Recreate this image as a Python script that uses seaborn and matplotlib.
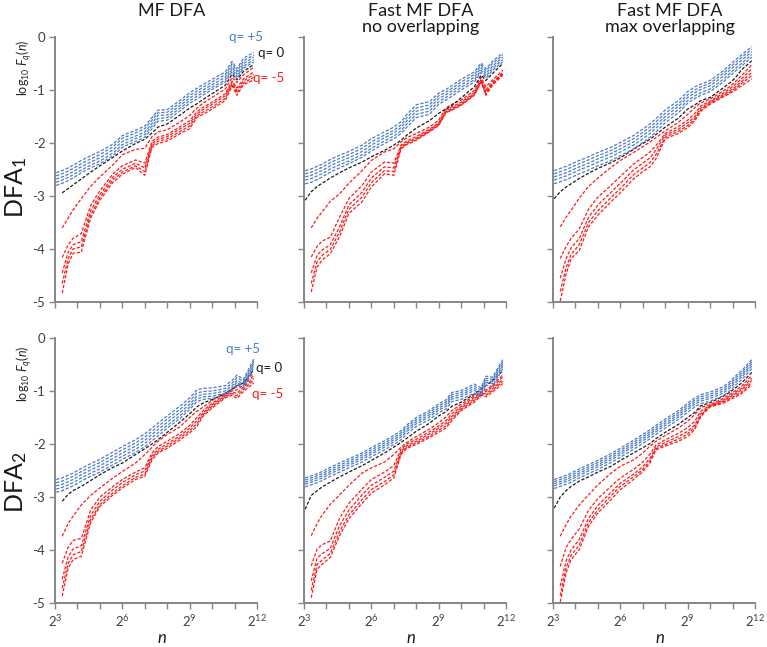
import numpy as np
import pandas as pd
import matplotlib
matplotlib.use("Agg")
import matplotlib.pyplot as plt
from matplotlib.ticker import NullLocator
import seaborn as sns

nan = np.nan

# window sizes n (same for every panel)
window_n = [8.3, 10, 12, 14, 18, 24, 32, 48, 64, 96, 128, 160, 192, 256,
            384, 512, 640, 768, 1024, 1536, 1900, 2200, 2700, 3700]

# log10 F_q(n), q = +5 ... -5
mf_dfa1 = {
    5: [-2.56, -2.52, -2.47, -2.42, -2.33, -2.24, -2.16, -2.02, -1.86, -1.76, -1.68, -1.52, -1.38, -1.37, -1.19, -1.05, -0.97, -0.90, -0.80, -0.66, -0.46, -0.60, -0.40, -0.29],
    4: [-2.62, -2.58, -2.53, -2.48, -2.39, -2.30, -2.22, -2.07, -1.91, -1.81, -1.73, -1.57, -1.43, -1.42, -1.24, -1.10, -1.02, -0.95, -0.85, -0.71, -0.51, -0.65, -0.45, -0.34],
    3: [-2.68, -2.64, -2.59, -2.54, -2.45, -2.36, -2.28, -2.13, -1.97, -1.87, -1.79, -1.63, -1.48, -1.47, -1.29, -1.15, -1.07, -1.00, -0.90, -0.76, -0.56, -0.70, -0.50, -0.38],
    2: [-2.74, -2.70, -2.65, -2.60, -2.51, -2.42, -2.34, -2.19, -2.03, -1.92, -1.84, -1.68, -1.54, -1.52, -1.34, -1.20, -1.12, -1.05, -0.95, -0.81, -0.61, -0.75, -0.55, -0.43],
    1: [-2.80, -2.76, -2.71, -2.66, -2.56, -2.47, -2.39, -2.24, -2.08, -1.97, -1.89, -1.73, -1.59, -1.57, -1.39, -1.25, -1.17, -1.10, -0.99, -0.85, -0.65, -0.79, -0.59, -0.47],
    0: [nan, -2.94, -2.86, -2.79, -2.68, -2.55, -2.43, -2.27, -2.15, -2.01, -1.93, -1.81, -1.70, -1.64, -1.47, -1.34, -1.26, -1.18, -1.07, -0.91, -0.70, -0.81, -0.65, -0.52],
    -1: [nan, -3.60, -3.42, -3.26, -3.05, -2.82, -2.64, -2.41, -2.22, -2.12, -2.10, -1.88, -1.79, -1.75, -1.60, -1.48, -1.34, -1.25, -1.14, -0.98, -0.76, -0.86, -0.71, -0.57],
    -2: [nan, -4.16, -3.92, -3.80, -3.71, -3.18, -2.90, -2.58, -2.43, -2.32, -2.38, -1.97, -1.89, -1.84, -1.69, -1.58, -1.41, -1.33, -1.23, -1.07, -0.83, -0.96, -0.79, -0.66],
    -3: [nan, -4.45, -4.06, -3.92, -3.86, -3.28, -2.97, -2.64, -2.50, -2.38, -2.47, -2.01, -1.93, -1.88, -1.73, -1.63, -1.45, -1.37, -1.27, -1.11, -0.86, -1.01, -0.83, -0.71],
    -4: [nan, -4.65, -4.18, -4.00, -3.96, -3.36, -3.03, -2.69, -2.55, -2.43, -2.54, -2.05, -1.97, -1.92, -1.78, -1.68, -1.49, -1.42, -1.32, -1.16, -0.89, -1.06, -0.87, -0.76],
    -5: [nan, -4.83, -4.28, -4.08, -4.06, -3.42, -3.08, -2.74, -2.59, -2.46, -2.61, -2.08, -2.01, -1.96, -1.82, -1.73, -1.52, -1.46, -1.36, -1.20, -0.92, -1.10, -0.90, -0.81],
}

fast_no_dfa1 = {
    5: [-2.52, -2.49, -2.44, -2.40, -2.31, -2.23, -2.16, -2.04, -1.92, -1.79, -1.70, -1.60, -1.46, -1.28, -1.22, -1.06, -0.99, -0.92, -0.80, -0.66, -0.49, -0.60, -0.46, -0.30],
    4: [-2.58, -2.55, -2.50, -2.46, -2.37, -2.29, -2.22, -2.10, -1.98, -1.85, -1.76, -1.66, -1.52, -1.34, -1.28, -1.11, -1.04, -0.97, -0.85, -0.71, -0.53, -0.64, -0.50, -0.34],
    3: [-2.64, -2.61, -2.56, -2.52, -2.43, -2.35, -2.28, -2.16, -2.04, -1.90, -1.81, -1.71, -1.58, -1.40, -1.34, -1.16, -1.09, -1.02, -0.90, -0.76, -0.58, -0.69, -0.55, -0.38],
    2: [-2.70, -2.67, -2.62, -2.58, -2.49, -2.41, -2.34, -2.22, -2.10, -1.96, -1.87, -1.77, -1.64, -1.46, -1.40, -1.22, -1.14, -1.07, -0.95, -0.81, -0.63, -0.74, -0.59, -0.43],
    1: [-2.77, -2.74, -2.69, -2.64, -2.55, -2.47, -2.39, -2.27, -2.15, -2.01, -1.92, -1.82, -1.70, -1.52, -1.46, -1.27, -1.19, -1.12, -1.00, -0.85, -0.67, -0.78, -0.63, -0.47],
    0: [-3.08, -2.92, -2.82, -2.76, -2.66, -2.56, -2.47, -2.36, -2.26, -2.14, -2.04, -1.95, -1.85, -1.72, -1.58, -1.44, -1.36, -1.29, -1.15, -0.94, -0.72, -0.82, -0.69, -0.50],
    -1: [nan, -3.60, -3.42, -3.30, -3.10, -2.96, -2.76, -2.52, -2.33, -2.17, -2.11, -1.98, -1.90, -1.82, -1.70, -1.57, -1.34, -1.27, -1.19, -1.01, -0.76, -0.94, -0.81, -0.63],
    -2: [nan, -4.15, -3.95, -3.85, -3.78, -3.40, -3.05, -2.80, -2.55, -2.36, -2.38, -2.04, -1.96, -1.88, -1.74, -1.62, -1.38, -1.32, -1.23, -1.05, -0.80, -1.00, -0.85, -0.67],
    -3: [nan, -4.45, -4.12, -4.02, -3.92, -3.58, -3.17, -2.93, -2.66, -2.45, -2.47, -2.07, -1.99, -1.91, -1.76, -1.64, -1.40, -1.35, -1.26, -1.07, -0.82, -1.04, -0.87, -0.69],
    -4: [nan, -4.65, -4.24, -4.12, -4.01, -3.68, -3.25, -3.02, -2.75, -2.52, -2.54, -2.09, -2.01, -1.93, -1.78, -1.66, -1.42, -1.37, -1.28, -1.09, -0.84, -1.07, -0.89, -0.71],
    -5: [nan, -4.81, -4.34, -4.21, -4.09, -3.77, -3.33, -3.11, -2.83, -2.58, -2.61, -2.11, -2.03, -1.95, -1.79, -1.67, -1.43, -1.38, -1.29, -1.10, -0.85, -1.10, -0.91, -0.72],
}

fast_max_dfa1 = {
    5: [-2.52, -2.48, -2.44, -2.40, -2.33, -2.26, -2.18, -2.08, -1.99, -1.86, -1.74, -1.64, -1.54, -1.38, -1.20, -1.03, -0.94, -0.89, -0.82, -0.64, -0.52, -0.44, -0.34, -0.18],
    4: [-2.58, -2.54, -2.50, -2.46, -2.39, -2.32, -2.24, -2.14, -2.05, -1.92, -1.80, -1.70, -1.60, -1.44, -1.26, -1.09, -1.00, -0.94, -0.87, -0.69, -0.57, -0.49, -0.39, -0.23],
    3: [-2.64, -2.60, -2.56, -2.52, -2.45, -2.38, -2.30, -2.20, -2.11, -1.98, -1.86, -1.76, -1.66, -1.50, -1.31, -1.14, -1.05, -0.99, -0.92, -0.74, -0.62, -0.54, -0.44, -0.28],
    2: [-2.70, -2.66, -2.62, -2.58, -2.51, -2.44, -2.36, -2.26, -2.17, -2.04, -1.92, -1.82, -1.72, -1.56, -1.37, -1.20, -1.11, -1.05, -0.98, -0.80, -0.68, -0.60, -0.50, -0.33],
    1: [-2.77, -2.73, -2.69, -2.65, -2.58, -2.51, -2.43, -2.33, -2.24, -2.11, -1.99, -1.89, -1.79, -1.62, -1.43, -1.25, -1.16, -1.10, -1.03, -0.85, -0.73, -0.65, -0.55, -0.38],
    0: [-3.05, -2.92, -2.83, -2.77, -2.67, -2.57, -2.48, -2.37, -2.28, -2.12, -2.01, -1.93, -1.84, -1.70, -1.53, -1.36, -1.28, -1.20, -1.14, -0.96, -0.86, -0.78, -0.62, -0.45],
    -1: [nan, -3.58, -3.40, -3.27, -3.04, -2.82, -2.66, -2.46, -2.33, -2.18, -2.07, -1.98, -1.90, -1.77, -1.61, -1.46, -1.33, -1.24, -1.17, -1.02, -0.93, -0.85, -0.73, -0.53],
    -2: [nan, -4.18, -3.95, -3.80, -3.62, -3.25, -3.02, -2.80, -2.63, -2.40, -2.27, -2.17, -2.05, -1.82, -1.69, -1.57, -1.44, -1.30, -1.21, -1.06, -0.97, -0.90, -0.79, -0.60],
    -3: [nan, -4.55, -4.18, -3.98, -3.80, -3.40, -3.17, -2.93, -2.76, -2.51, -2.38, -2.28, -2.13, -1.85, -1.74, -1.62, -1.50, -1.34, -1.23, -1.09, -1.01, -0.95, -0.84, -0.67],
    -4: [nan, -4.80, -4.35, -4.10, -3.92, -3.50, -3.28, -3.03, -2.86, -2.60, -2.47, -2.37, -2.22, -1.89, -1.78, -1.67, -1.54, -1.37, -1.25, -1.11, -1.04, -0.98, -0.88, -0.73],
    -5: [nan, -4.98, -4.47, -4.18, -4.03, -3.58, -3.36, -3.11, -2.94, -2.68, -2.54, -2.45, -2.30, -1.92, -1.82, -1.71, -1.58, -1.40, -1.27, -1.13, -1.06, -1.01, -0.92, -0.79],
}

mf_dfa2 = {
    5: [-2.67, -2.64, -2.59, -2.55, -2.46, -2.37, -2.29, -2.15, -2.05, -1.92, -1.81, -1.70, -1.61, -1.47, -1.28, -1.13, -0.98, -0.95, -0.94, -0.90, -0.80, -0.70, -0.78, -0.40],
    4: [-2.73, -2.70, -2.65, -2.61, -2.52, -2.43, -2.35, -2.21, -2.11, -1.98, -1.87, -1.76, -1.67, -1.53, -1.34, -1.19, -1.04, -1.01, -1.00, -0.95, -0.85, -0.75, -0.82, -0.44],
    3: [-2.79, -2.76, -2.71, -2.67, -2.58, -2.49, -2.41, -2.27, -2.17, -2.04, -1.93, -1.82, -1.73, -1.59, -1.40, -1.25, -1.10, -1.06, -1.05, -1.00, -0.90, -0.80, -0.87, -0.48],
    2: [-2.85, -2.82, -2.77, -2.73, -2.64, -2.55, -2.47, -2.33, -2.23, -2.10, -1.99, -1.88, -1.79, -1.65, -1.46, -1.30, -1.15, -1.11, -1.10, -1.04, -0.94, -0.84, -0.91, -0.52],
    1: [-2.91, -2.88, -2.83, -2.79, -2.70, -2.61, -2.53, -2.39, -2.29, -2.16, -2.05, -1.94, -1.85, -1.70, -1.51, -1.35, -1.20, -1.16, -1.14, -1.08, -0.98, -0.88, -0.95, -0.56],
    0: [nan, -3.08, -2.95, -2.88, -2.80, -2.69, -2.58, -2.44, -2.36, -2.20, -2.09, -2.00, -1.92, -1.78, -1.58, -1.43, -1.30, -1.23, -1.16, -1.05, -0.97, -0.90, -0.85, -0.60],
    -1: [nan, -3.74, -3.50, -3.36, -3.15, -2.97, -2.83, -2.64, -2.52, -2.36, -2.20, -2.06, -1.95, -1.82, -1.67, -1.50, -1.38, -1.31, -1.18, -1.04, -0.97, -0.92, -0.85, -0.66],
    -2: [nan, -4.25, -3.95, -3.82, -3.78, -3.25, -3.00, -2.80, -2.67, -2.53, -2.45, -2.17, -2.05, -1.95, -1.79, -1.65, -1.50, -1.38, -1.23, -1.07, -1.00, -0.98, -0.89, -0.71],
    -3: [nan, -4.55, -4.13, -3.98, -3.92, -3.35, -3.08, -2.86, -2.73, -2.58, -2.51, -2.22, -2.10, -2.00, -1.84, -1.70, -1.56, -1.42, -1.26, -1.09, -1.03, -1.04, -0.93, -0.76],
    -4: [nan, -4.72, -4.25, -4.09, -4.03, -3.43, -3.14, -2.92, -2.79, -2.63, -2.57, -2.26, -2.14, -2.04, -1.88, -1.75, -1.62, -1.45, -1.29, -1.11, -1.05, -1.09, -0.97, -0.80],
    -5: [nan, -4.87, -4.34, -4.18, -4.12, -3.49, -3.18, -2.96, -2.83, -2.67, -2.61, -2.30, -2.17, -2.08, -1.92, -1.79, -1.67, -1.48, -1.32, -1.13, -1.08, -1.14, -1.01, -0.85],
}

fast_no_dfa2 = {
    5: [-2.64, -2.60, -2.56, -2.52, -2.44, -2.36, -2.28, -2.17, -2.07, -1.94, -1.84, -1.75, -1.64, -1.50, -1.37, -1.24, -1.17, -1.03, -0.99, -0.87, -0.94, -0.72, -0.74, -0.41],
    4: [-2.68, -2.64, -2.60, -2.56, -2.48, -2.40, -2.32, -2.21, -2.11, -1.98, -1.88, -1.79, -1.68, -1.54, -1.41, -1.28, -1.21, -1.07, -1.03, -0.91, -0.98, -0.76, -0.78, -0.45],
    3: [-2.72, -2.68, -2.64, -2.60, -2.52, -2.44, -2.36, -2.25, -2.15, -2.02, -1.92, -1.83, -1.72, -1.58, -1.45, -1.32, -1.25, -1.11, -1.07, -0.95, -1.02, -0.80, -0.82, -0.49],
    2: [-2.76, -2.72, -2.68, -2.64, -2.56, -2.48, -2.40, -2.29, -2.19, -2.06, -1.96, -1.87, -1.76, -1.62, -1.49, -1.36, -1.29, -1.15, -1.11, -0.99, -1.06, -0.84, -0.86, -0.53],
    1: [-2.81, -2.77, -2.73, -2.69, -2.61, -2.53, -2.45, -2.34, -2.24, -2.11, -2.01, -1.92, -1.81, -1.67, -1.54, -1.41, -1.34, -1.20, -1.16, -1.04, -1.11, -0.89, -0.91, -0.58],
    0: [-3.23, -2.97, -2.88, -2.81, -2.72, -2.62, -2.53, -2.41, -2.31, -2.17, -2.06, -1.97, -1.89, -1.76, -1.61, -1.47, -1.39, -1.29, -1.21, -1.06, -0.96, -0.90, -0.80, -0.62],
    -1: [nan, -3.73, -3.50, -3.34, -3.14, -2.96, -2.78, -2.55, -2.45, -2.34, -2.20, -2.06, -1.97, -1.86, -1.72, -1.60, -1.49, -1.37, -1.25, -1.09, -1.02, -0.98, -0.89, -0.70],
    -2: [nan, -4.30, -3.98, -3.90, -3.83, -3.40, -3.12, -2.85, -2.67, -2.53, -2.41, -2.10, -2.00, -1.91, -1.77, -1.66, -1.56, -1.43, -1.29, -1.12, -1.03, -1.01, -0.92, -0.74],
    -3: [nan, -4.58, -4.15, -4.07, -3.97, -3.54, -3.25, -2.96, -2.78, -2.63, -2.51, -2.14, -2.03, -1.95, -1.81, -1.70, -1.61, -1.48, -1.32, -1.15, -1.05, -1.05, -0.96, -0.78],
    -4: [nan, -4.76, -4.27, -4.19, -4.07, -3.65, -3.34, -3.05, -2.86, -2.71, -2.58, -2.17, -2.06, -1.98, -1.85, -1.74, -1.66, -1.52, -1.35, -1.18, -1.07, -1.08, -0.99, -0.82],
    -5: [nan, -4.90, -4.36, -4.27, -4.14, -3.73, -3.41, -3.12, -2.93, -2.77, -2.64, -2.20, -2.08, -2.01, -1.88, -1.78, -1.70, -1.56, -1.37, -1.21, -1.08, -1.11, -1.02, -0.86],
}

fast_max_dfa2 = {
    5: [-2.67, -2.63, -2.59, -2.55, -2.47, -2.39, -2.31, -2.18, -2.08, -1.93, -1.82, -1.73, -1.65, -1.53, -1.37, -1.23, -1.13, -1.07, -1.02, -0.92, -0.82, -0.73, -0.62, -0.41],
    4: [-2.71, -2.67, -2.63, -2.59, -2.51, -2.43, -2.35, -2.22, -2.12, -1.97, -1.86, -1.77, -1.69, -1.57, -1.41, -1.27, -1.17, -1.11, -1.06, -0.96, -0.86, -0.77, -0.66, -0.45],
    3: [-2.75, -2.71, -2.67, -2.63, -2.55, -2.47, -2.39, -2.26, -2.16, -2.01, -1.90, -1.81, -1.73, -1.61, -1.45, -1.31, -1.21, -1.15, -1.10, -1.00, -0.90, -0.81, -0.70, -0.49],
    2: [-2.79, -2.75, -2.71, -2.67, -2.59, -2.51, -2.43, -2.30, -2.20, -2.05, -1.94, -1.85, -1.77, -1.65, -1.49, -1.35, -1.25, -1.19, -1.14, -1.04, -0.94, -0.85, -0.74, -0.53],
    1: [-2.84, -2.80, -2.76, -2.72, -2.64, -2.56, -2.48, -2.35, -2.25, -2.10, -1.99, -1.90, -1.82, -1.70, -1.54, -1.40, -1.30, -1.24, -1.19, -1.09, -0.99, -0.90, -0.79, -0.58],
    0: [-3.21, -3.00, -2.88, -2.80, -2.70, -2.62, -2.53, -2.42, -2.31, -2.17, -2.07, -1.99, -1.90, -1.78, -1.63, -1.50, -1.40, -1.28, -1.22, -1.10, -1.02, -0.95, -0.85, -0.65],
    -1: [nan, -3.74, -3.52, -3.36, -3.15, -2.96, -2.77, -2.55, -2.42, -2.30, -2.17, -2.04, -1.95, -1.84, -1.70, -1.57, -1.44, -1.31, -1.26, -1.14, -1.06, -1.00, -0.91, -0.71],
    -2: [nan, -4.31, -3.95, -3.80, -3.60, -3.25, -3.03, -2.80, -2.64, -2.48, -2.34, -2.19, -2.02, -1.92, -1.80, -1.69, -1.57, -1.38, -1.27, -1.17, -1.09, -1.03, -0.95, -0.76],
    -3: [nan, -4.68, -4.20, -4.00, -3.80, -3.40, -3.16, -2.91, -2.74, -2.57, -2.43, -2.27, -2.06, -1.97, -1.86, -1.76, -1.64, -1.43, -1.28, -1.19, -1.11, -1.06, -0.98, -0.80],
    -4: [nan, -4.86, -4.33, -4.10, -3.91, -3.48, -3.24, -2.98, -2.80, -2.62, -2.48, -2.32, -2.09, -2.01, -1.91, -1.81, -1.68, -1.46, -1.29, -1.21, -1.14, -1.09, -1.02, -0.84],
    -5: [nan, -4.98, -4.43, -4.18, -3.99, -3.55, -3.30, -3.05, -2.86, -2.67, -2.52, -2.36, -2.11, -2.04, -1.95, -1.86, -1.72, -1.48, -1.30, -1.23, -1.16, -1.12, -1.05, -0.88],
}

col_titles = ["MF DFA", "Fast MF DFA\nno overlapping", "Fast MF DFA\nmax overlapping"]
row_titles = ["DFA$_1$", "DFA$_2$"]
ytick_vals = [0, -1, -2, -3, -4, -5]
xtick_pows = list(range(3, 13))

blue, red, black = "#4a7bc8", "#ff1a1a", "#1a1a1a"
spine_grey = "#868686"

sns.set_theme(style="white")
plt.rcParams["font.family"] = ["Lato", "DejaVu Sans"]
plt.rcParams["mathtext.fontset"] = "custom"
plt.rcParams["mathtext.rm"] = "Lato"
plt.rcParams["mathtext.it"] = "Lato:italic"
plt.rcParams["axes.unicode_minus"] = False


def long_table(curves):
    parts = [pd.DataFrame({"n": window_n, "logF": vals, "q": q}) for q, vals in curves.items()]
    return pd.concat(parts, ignore_index=True).dropna()


q_colors = {q: (blue if q > 0 else red if q < 0 else black) for q in mf_dfa1}

W, H = 767, 647
fig = plt.figure(figsize=(W / 100, H / 100), dpi=100)
col_left = [55, 304, 553]
row_top = [37, 338]
ax_w, ax_h = 202, 265

panels = [[mf_dfa1, fast_no_dfa1, fast_max_dfa1],
          [mf_dfa2, fast_no_dfa2, fast_max_dfa2]]

for r, row in enumerate(panels):
    for c, curves in enumerate(row):
        ax = fig.add_axes([col_left[c] / W, 1 - (row_top[r] + ax_h) / H, ax_w / W, ax_h / H])
        sns.lineplot(data=long_table(curves), x="n", y="logF", hue="q", palette=q_colors,
                     hue_order=[-5, -4, -3, -2, -1, 0, 1, 2, 3, 4, 5],
                     estimator=None, legend=False, lw=0.9, linestyle=(0, (2.6, 1.4)), ax=ax)
        ax.set_xscale("log", base=2)
        ax.set_xlim(2 ** 3, 2 ** 12)
        ax.set_ylim(-5, 0)
        ax.set_xticks([2 ** k for k in xtick_pows])
        ax.xaxis.set_minor_locator(NullLocator())
        ax.set_yticks(ytick_vals)
        if r == 1:
            ax.set_xticklabels(["$2^{%d}$" % k if k % 3 == 0 else "" for k in xtick_pows])
        else:
            ax.set_xticklabels([])
        if c == 0:
            ax.set_yticklabels([str(v) for v in ytick_vals])
        else:
            ax.set_yticklabels([])
        ax.set_xlabel("")
        ax.set_ylabel("")
        for side in ["top", "right"]:
            ax.spines[side].set_visible(False)
        for side in ["left", "bottom"]:
            ax.spines[side].set_color(spine_grey)
            ax.spines[side].set_linewidth(1.4)
        ax.tick_params(direction="out", length=4, width=1, color=spine_grey,
                       labelsize=9.5, labelcolor="#404040", pad=3, bottom=True, left=True)

        if c == 0:
            ax.text(-0.155, 0.885 if r == 0 else 0.865, r"log$_{10}$ $F_q$($n$)", rotation=90,
                    transform=ax.transAxes, ha="center", va="center", fontsize=9, color="#262626")
            lab_y = [(1.0, 0.94, 0.845), (0.958, 0.887, 0.79)][r]
            lab_x = [(0.945, 1.07, 1.06), (0.93, 1.06, 1.055)][r]
            for txt, col, x, y in zip(["q= +5", "q= 0", "q= -5"], [blue, black, red], lab_x, lab_y):
                ax.text(x, y, txt, color=col, fontsize=9.5, transform=ax.transAxes,
                        ha="center", va="center", clip_on=False)

# column titles, row titles, n labels
for c, title in enumerate(col_titles):
    cx = (col_left[c] + ax_w / 2 + 16) / W
    fig.text(cx, 1 - 3 / H, title, ha="center", va="top", fontsize=13,
             linespacing=1.0, color="#1a1a1a")
    fig.text((col_left[c] + ax_w / 2 + 6) / W, 1 - 638 / H, "$n$", ha="center",
             va="center", fontsize=12, color="#1a1a1a")

for r, title in enumerate(row_titles):
    fig.text(16 / W, 1 - [187, 482][r] / H, title, rotation=90, ha="center", va="center",
             fontsize=18, color="#1a1a1a")

fig.savefig("out.png", dpi=100)
